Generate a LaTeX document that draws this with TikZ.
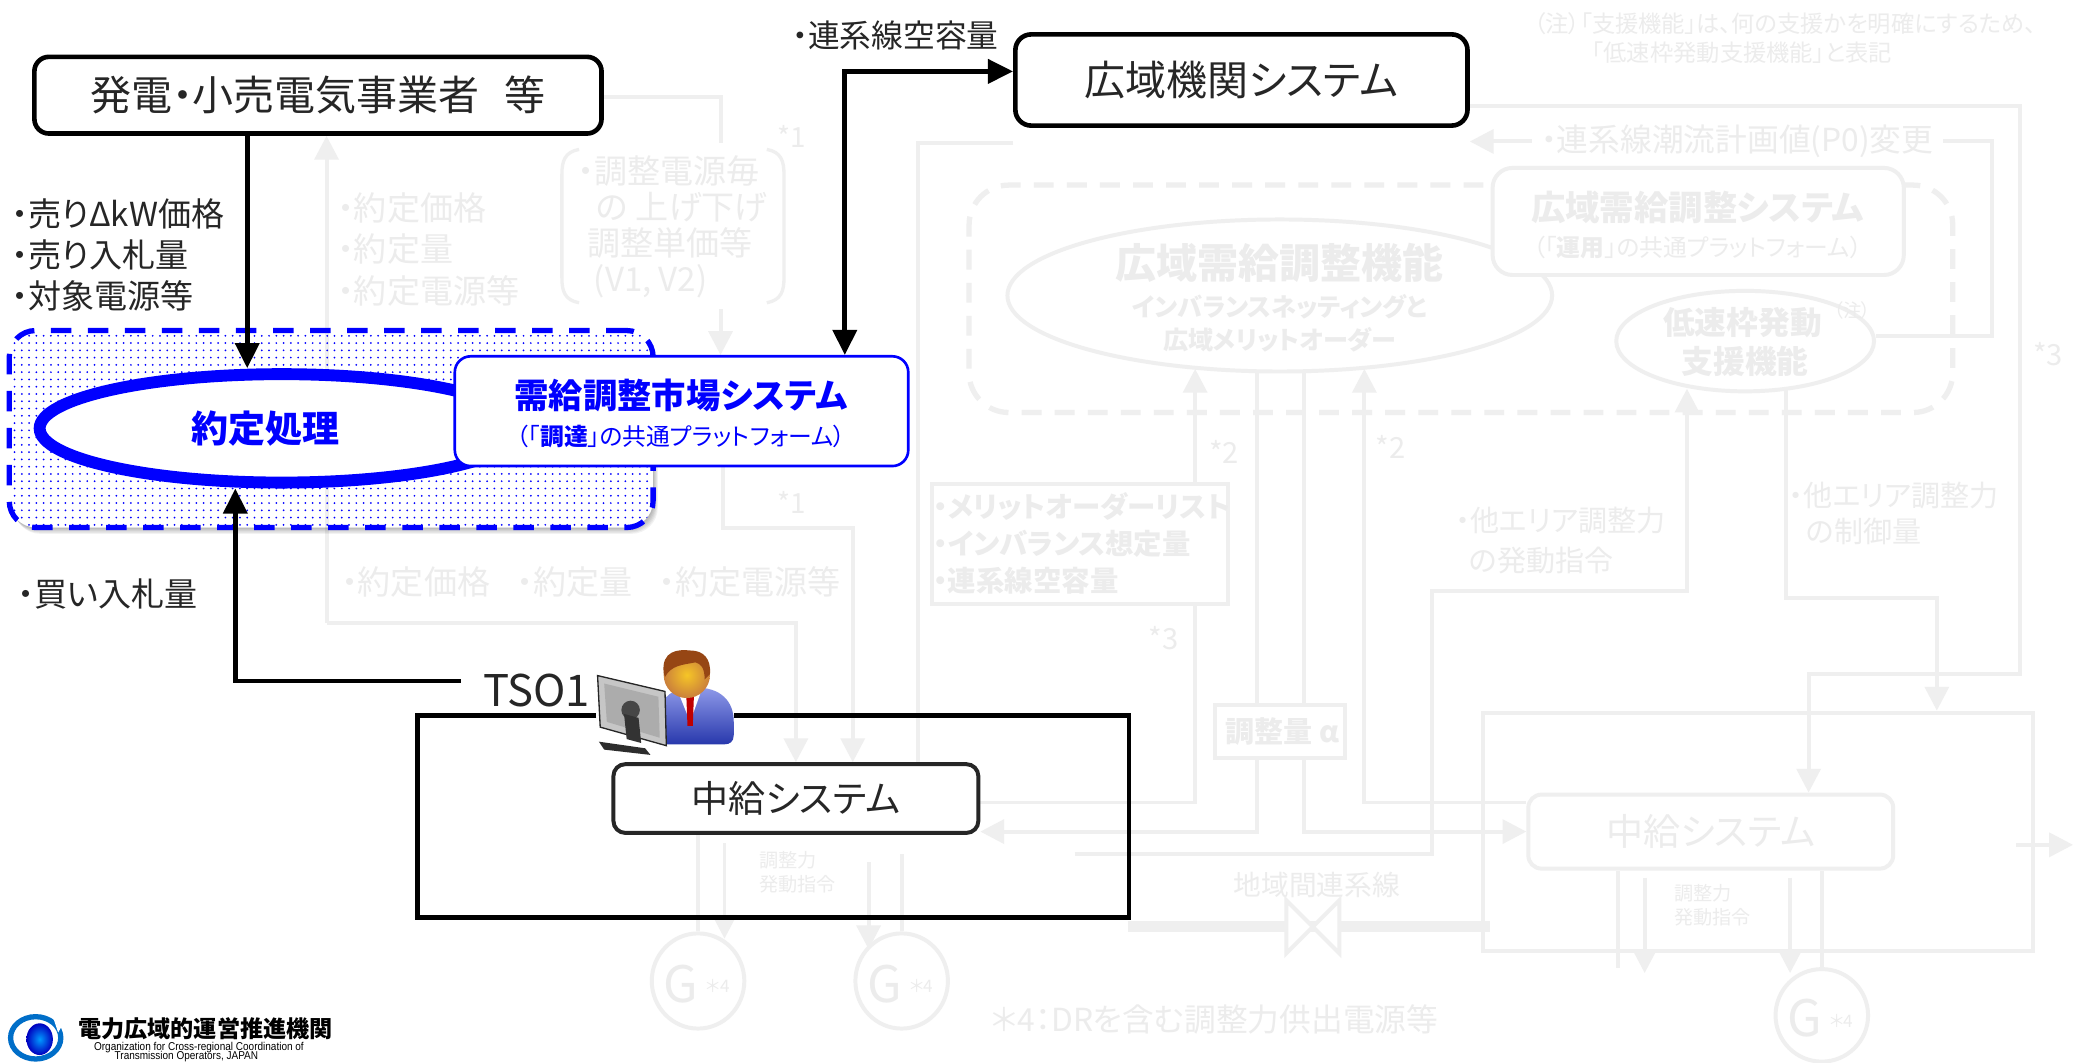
\documentclass[tikz,border=0pt]{standalone}
\usepackage{fontspec}
\setmainfont{Noto Sans CJK JP}[RawFeature=+palt]
\newfontfamily\logolatin{Liberation Sans}
\usetikzlibrary{arrows.meta,patterns.meta,shapes.geometric,backgrounds}
\definecolor{fade}{RGB}{239,239,239}
\definecolor{fadetxt}{RGB}{236,236,236}
\definecolor{ink}{RGB}{38,38,38}
\definecolor{mblue}{RGB}{0,0,255}
\definecolor{suit}{RGB}{50,70,215}
\definecolor{skin}{RGB}{238,150,70}
\definecolor{hair}{RGB}{150,70,20}
\definecolor{logoblue}{RGB}{0,110,200}
\newcommand{\fsz}[2]{\fontsize{#1}{#2}\selectfont}
\tikzset{
  bigtip/.tip={Triangle[length=19pt,width=18pt]},
  ftip/.tip={Triangle[length=18pt,width=18pt]},
  fl/.style={draw=fade,line width=3pt},
  fa/.style={fl,-ftip},
  ft/.style={text=fadetxt,inner sep=0pt},
  fbox/.style={fl,inner sep=0pt},
  bline/.style={draw=black,line width=3.5pt},
  btxt/.style={text=ink,inner sep=0pt,anchor=west,font=\fsz{25}{28}},
}
\begin{document}
\begin{tikzpicture}[x=1pt,y=-1pt]
\useasboundingbox (0,0) rectangle (1568,804);

% ================= grey scheme of the wide-area system =================
\node[ft,anchor=west,font=\fsz{17.6}{20}] (note1) at (1160,18) {（注）「支援機能」は、何の支援かを明確にするため、};
\node[ft,anchor=west,font=\fsz{17.6}{20}] (note2) at (1204,40) {「低速枠発動支援機能」と表記};

\node[fbox,line width=4pt,dash pattern=on 15pt off 10pt,rounded corners=30,minimum width=744,minimum height=172] (platform) at (1105,226) {};

\node[fbox,ellipse,fill=white,minimum width=412,minimum height=115] (wfunc) at (968,223.5) {};
\node[ft,font=\fsz{31}{34}\bfseries] (wfuncA) at (968,199) {広域需給調整機能};
\node[ft,font=\fsz{19}{22}\bfseries] (wfuncB) at (968,232) {インバランスネッティングと};
\node[ft,font=\fsz{19}{22}\bfseries] (wfuncC) at (968,257) {広域メリットオーダー};

\node[fbox,fill=white,rounded corners=15,minimum width=311,minimum height=81] (wsys) at (1284.5,167.5) {};
\node[ft,font=\fsz{26}{30}\bfseries] (wsysA) at (1284,157) {広域需給調整システム};
\node[ft,font=\fsz{18}{22}] (wsysB) at (1284,187) {（「\textbf{運用}」の共通プラットフォーム）};

\node[fbox,ellipse,fill=white,minimum width=195,minimum height=76] (slow) at (1320,258) {};
\node[ft,font=\fsz{24}{28}\bfseries] (slowA) at (1318,244) {低速枠発動};
\node[ft,font=\fsz{14}{16}] (slowN) at (1401,235) {（注）};
\node[ft,font=\fsz{24}{28}\bfseries] (slowB) at (1320,273) {支援機能};

\node[fbox,minimum width=224,minimum height=91] (merit) at (817,411.5) {};
\node[ft,anchor=west,font=\fsz{21.5}{26}\bfseries] (meritA) at (706,383) {・メリットオーダーリスト};
\node[ft,anchor=west,font=\fsz{21.5}{26}\bfseries] (meritB) at (706,411) {・インバランス想定量};
\node[ft,anchor=west,font=\fsz{21.5}{26}\bfseries] (meritC) at (706,439) {・連系線空容量};

\node[fbox,fill=white,minimum width=98,minimum height=40] (alpha) at (968,553) {};
\node[ft,font=\fsz{22}{26}\bfseries] (alphaT) at (970,553) {調整量 α};

\node[fbox,minimum width=416,minimum height=180] (tsoB) at (1330,629) {};
\node[fbox,fill=white,rounded corners=10,minimum width=276,minimum height=56,text=fadetxt,font=\fsz{28}{32}] (chuB) at (1294,629) {中給システム};

% generators
\node[fbox,ellipse,minimum width=70,minimum height=72] (g1) at (528,742) {};
\node[ft,font=\fsz{38}{40}] (g1G) at (515,744) {G};
\node[ft,font=\fsz{13}{15}] (g1n) at (543,746) {＊4};
\node[fbox,ellipse,minimum width=70,minimum height=72] (g2) at (682,742) {};
\node[ft,font=\fsz{38}{40}] (g2G) at (669,744) {G};
\node[ft,font=\fsz{13}{15}] (g2n) at (697,746) {＊4};
\node[fbox,ellipse,minimum width=70,minimum height=70] (g3) at (1378,768) {};
\node[ft,font=\fsz{38}{40}] (g3G) at (1365,770) {G};
\node[ft,font=\fsz{13}{15}] (g3n) at (1393,772) {＊4};

% grey labels
\node[ft,anchor=west,font=\fsz{25}{28}] (yA) at (255,157) {・約定価格};
\node[ft,anchor=west,font=\fsz{25}{28}] (yB) at (255,188) {・約定量};
\node[ft,anchor=west,font=\fsz{25}{28}] (yC) at (255,220) {・約定電源等};
\node[ft,anchor=west,font=\fsz{25}{28}] (yD) at (258,440) {・約定価格\hspace{0.8em}・約定量\hspace{0.8em}・約定電源等};

\node[ft,anchor=west,font=\fsz{25}{28}] (vA) at (437,129) {・調整電源毎};
\node[ft,anchor=west,font=\fsz{25}{28}] (vB) at (451,157) {の 上げ下げ};
\node[ft,anchor=west,font=\fsz{25}{28}] (vC) at (444,184) {調整単価等};
\node[ft,anchor=west,font=\fsz{25}{28}] (vD) at (449,213) {(V1, V2)};
\draw[fl,line width=2.5pt] (438,113) .. controls (427,115) and (425,122) .. (425,132) -- (425,210) .. controls (425,220) and (427,227) .. (438,229);
\draw[fl,line width=2.5pt] (580,113) .. controls (591,115) and (593,122) .. (593,132) -- (593,210) .. controls (593,220) and (591,227) .. (580,229);

\node[ft,font=\fsz{21}{24}] (s1a) at (599,103) {*1};
\node[ft,font=\fsz{21}{24}] (s1b) at (599,380) {*1};
\node[ft,font=\fsz{22}{24}] (s2a) at (926,342) {*2};
\node[ft,font=\fsz{22}{24}] (s2b) at (1052,338) {*2};
\node[ft,font=\fsz{22}{24}] (s3a) at (880,483) {*3};
\node[ft,font=\fsz{22}{24}] (s3b) at (1549,268) {*3};

\node[ft,anchor=west,font=\fsz{22}{26}] (oA) at (1101,394) {・他エリア調整力};
\node[ft,anchor=west,font=\fsz{22}{26}] (oB) at (1111,424) {の発動指令};
\node[ft,anchor=west,font=\fsz{22}{26}] (oC) at (1353,375) {・他エリア調整力};
\node[ft,anchor=west,font=\fsz{22}{26}] (oD) at (1366,402) {の制御量};

\node[ft,font=\fsz{21}{24}] (tie) at (996,669) {地域間連系線};
\node[ft,font=\fsz{24}{26}] (foot) at (919,771) {＊4：DRを含む調整力供出電源等};
\node[ft,anchor=west,font=\fsz{14.5}{17}] (dA) at (574,651) {調整力};
\node[ft,anchor=west,font=\fsz{14.5}{17}] (dB) at (574,669) {発動指令};
\node[ft,anchor=west,font=\fsz{14.5}{17}] (dC) at (1266,676) {調整力};
\node[ft,anchor=west,font=\fsz{14.5}{17}] (dD) at (1266,694) {発動指令};

\node[ft,fill=white,inner xsep=7pt,inner ysep=2pt,font=\fsz{24}{26}] (p0) at (1314,107) {・連系線潮流計画値(P0)変更};

\coordinate (valve) at (993,701);
\draw[fl,fill=white,line join=miter] (973,681) -- (1013,721) -- (1013,681) -- (973,721) -- cycle;

% ================= market clearing (blue) =================
\begin{scope}[even odd rule,rounded corners=20]
  \clip (-20,-20) rectangle (1600,900) (7,250) rectangle (494,399);
  \foreach \d in {1,...,6}
    \fill[black,opacity=0.05] (7+\d*0.6,250+\d*0.8) rectangle (494+\d*0.6,399+\d*0.8);
\end{scope}
\node[draw=mblue,line width=4pt,dash pattern=on 15.5pt off 12.5pt,rounded corners=20,
      pattern={Dots[distance=5.5pt,radius=0.75pt]},pattern color=mblue,
      minimum width=487,minimum height=149,inner sep=0] (bluebox) at (250.5,324.5) {};
\node[draw=mblue,line width=9pt,fill=white,ellipse,minimum width=366,minimum height=82,inner sep=0] (yakujo) at (213,324) {};
\node[text=mblue,font=\fsz{28}{32}\bfseries,inner sep=0] (yakujoT) at (201,324) {約定処理};

\node[draw=mblue,line width=2pt,fill=white,rounded corners=12,minimum width=343,minimum height=83,inner sep=0] (jms) at (515.5,311) {};
\node[text=mblue,font=\fsz{26}{30}\bfseries,inner sep=0] (jmsA) at (515,299) {需給調整市場システム};
\node[text=mblue,font=\fsz{18}{22},inner sep=0] (jmsB) at (515,330) {（「\textbf{調達}」の共通プラットフォーム）};

% ================= black boxes =================
\node[bline,rounded corners=11,fill=white,minimum width=429,minimum height=58,inner sep=0,text=ink,font=\fsz{31}{36}] (gen) at (240.5,72) {発電・小売電気事業者\hspace{0.6em}等};
\node[bline,rounded corners=12,fill=white,minimum width=342,minimum height=69,inner sep=0,text=ink,font=\fsz{31}{36}] (kikan) at (939,60.5) {広域機関システム};
\node[draw=ink,line width=3pt,rounded corners=9,fill=white,minimum width=276,minimum height=52,inner sep=0,text=ink,font=\fsz{28}{32}] (chu) at (602,604) {中給システム};

\draw[bline] (451,541) -- (316,541) -- (316,694) -- (854,694) -- (854,541) -- (555,541);
\node[text=ink,font=\fsz{33}{36},inner xsep=17pt,inner ysep=0pt] (tso) at (406,522) {TSO1};

\node[btxt] (sellA) at (9,162) {・売りΔkW価格};
\node[btxt] (sellB) at (9,193) {・売り入札量};
\node[btxt] (sellC) at (9,224) {・対象電源等};
\node[btxt] (buy) at (13,449) {・買い入札量};
\node[btxt,font=\fsz{24}{28}] (free) at (599,27) {・連系線空容量};

% black connectors
\draw[bline,-bigtip] (gen.south -| 187,0) -- (yakujo.north -| 187,0);
\draw[bline,-bigtip] (tso.west |- 0,515) -- (178,515) -- (yakujo.south -| 178,0);
\draw[bline,bigtip-bigtip] (jms.north -| 639,0) -- (639,54) -- (kikan.west |- 0,54);

% ================= operator at the terminal =================
\shade[top color=suit!55!white,bottom color=suit!80!black] (499,563) -- (499,541) .. controls (499,527) and (509,520) .. (526,520) .. controls (545,520) and (555,530) .. (555,546) -- (555,556) .. controls (555,561) and (552,563) .. (548,563) -- cycle;
\fill[white] (512,521) -- (531,521) -- (522,546) -- cycle;
\fill[red!75!black] (519,523) -- (525,523) -- (524,549) -- (520,549) -- cycle;
\shade[inner color=skin!55!yellow,outer color=skin!85!black] (519.5,510.5) circle (17.5);
\fill[hair] (502,509) .. controls (500,492) and (513,491) .. (522,492) .. controls (532,492) and (538,498) .. (537,510) -- (533,514) .. controls (533,505) and (530,502) .. (526,501) .. controls (516,503) and (508,503) .. (503,512) -- cycle;
\fill[gray!45] (452,511) -- (503,523) -- (504,564) -- (454,550) -- cycle;
\draw[gray!30!black,line width=1pt] (452,511) -- (503,523) -- (504,564) -- (454,550) -- cycle;
\fill[gray!65] (457,517) -- (498,527) -- (499,558) -- (459,546) -- cycle;
\fill[gray!55!black] (477,537) circle (7);
\fill[gray!40!black] (472,540) -- (483,543) -- (485,562) -- (474,559) -- cycle;
\fill[gray!35!black] (453,561) -- (488,566) -- (492,571) -- (457,567) -- cycle;

% ================= organisation mark =================
\draw[logoblue,line width=4pt] (27,785) ellipse [x radius=19,y radius=16];
\fill[white] (40,769) -- (48,774) -- (44,781) -- cycle;
\shade[inner color=cyan!60!blue,outer color=blue!75!black] (30,786) ellipse [x radius=10,y radius=12];
\node[anchor=west,inner sep=0,font=\fsz{17.5}{20}\bfseries] (logoJ) at (59,778) {電力広域的運営推進機関};
\node[anchor=west,inner sep=0,font=\logolatin\fsz{8.6}{10}] (logoE) at (71,792) {\scalebox{0.88}[1]{Organization for Cross-regional Coordination of}};
\node[inner sep=0,font=\logolatin\fsz{8.6}{10}] (logoF) at (141,799.5) {\scalebox{0.88}[1]{Transmission Operators, JAPAN}};

% ================= grey connectors (behind everything) =================
\begin{scope}[on background layer]
\fill[white] (0,0) rectangle (1568,804);
\draw[fa] (247,471) -- (gen.south -| 247,0);
\draw[fa] (247,471) -- (602,471) -- (chu.north -| 602,0);
\draw[fl] (gen.east |- 0,73) -- (545,73) -- (545,108);
\draw[fa] (545,234) -- (jms.north -| 545,0);
\draw[fa] (jms.south -| 547,0) -- (547,399) -- (645,399) -- (chu.north -| 645,0);
\draw[fl] (kikan.west |- 0,108) -- (694,108) -- (chu.north -| 694,0);
\draw[fa] (merit.north -| 904,0) -- (904,279);
\draw[fl] (merit.south -| 904,0) -- (904,607) -- (chu.east |- 0,607);
\draw[fl] (951,281) -- (alpha.north -| 951,0);
\draw[fa] (alpha.south -| 951,0) -- (951,629) -- (chu.east |- 0,629);
\draw[fl] (986,281) -- (alpha.north -| 986,0);
\draw[fa] (alpha.south -| 986,0) -- (986,629) -- (chuB.west |- 0,629);
\draw[fa] (chuB.west |- 0,607) -- (1032,607) -- (1032,279);
\draw[fa] (813,646) -- (1083,646) -- (1083,447) -- (1276,447) -- (1276,294);
\draw[fa] (1351,294) -- (1351,452) -- (1465,452) -- (tsoB.north -| 1465,0);
\draw[fa] (kikan.east |- 0,80) -- (1528,80) -- (1528,510) -- (1368,510) -- (chuB.north -| 1368,0);
\draw[fa] (slow.east |- 0,254) -- (1507,254) -- (1507,107) -- (kikan.east |- 0,107);
\draw[fade,line width=8pt] (853,701) -- (valve);
\draw[fade,line width=8pt] (valve) -- (1127,701);
\draw[fa] (1525,639) -- (1568,639);
\draw[fl] (chu.south -| 528,0) -- (g1.north);
\draw[fa] (548,638) -- (548,710);
\draw[fa] (657,652) -- (657,718);
\draw[fl] (682,646) -- (g2.north);
\draw[fl] (chuB.south -| 1224,0) -- (1224,732);
\draw[fa] (1244,664) -- (1244,736);
\draw[fa] (1354,664) -- (1354,736);
\draw[fl] (chuB.south -| 1378,0) -- (g3.north);
\end{scope}
\end{tikzpicture}
\end{document}
